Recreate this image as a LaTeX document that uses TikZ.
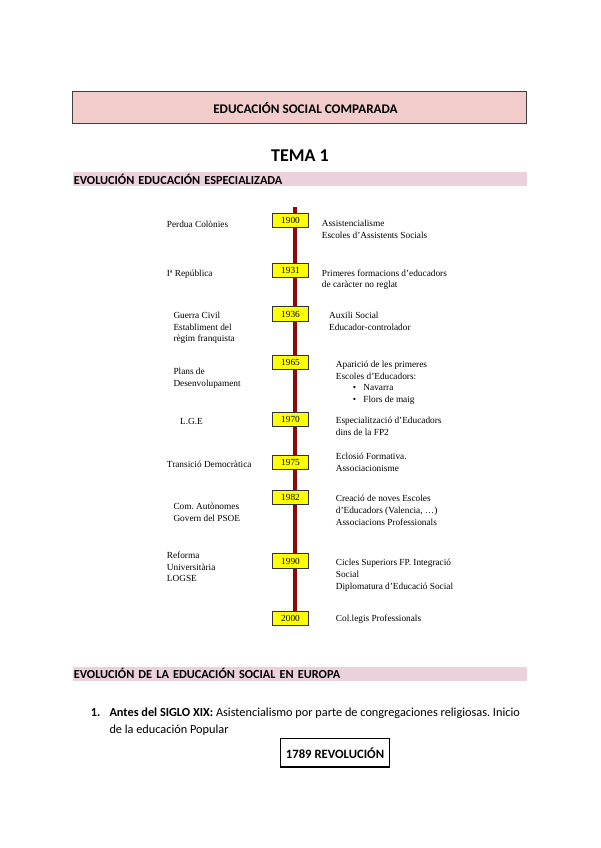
\documentclass[tikz,border=0pt]{standalone}
\usepackage{fontspec}
\setmainfont{Carlito}
\newfontfamily\timesf{Liberation Serif}
\frenchspacing
\definecolor{titlepink}{HTML}{F2CBCB}
\definecolor{bandpink}{HTML}{EBD1DC}
\definecolor{linered}{HTML}{8B0A0A}
\definecolor{yearyel}{HTML}{FFFF00}
\definecolor{boxgray}{HTML}{404040}
\tikzset{
  titlebox/.style={draw=boxgray, fill=titlepink, line width=1.2pt, minimum width=454pt, minimum height=31.5pt, inner sep=0pt},
  band/.style={fill=bandpink, anchor=west, text width=452pt, align=left, inner xsep=1pt, inner ysep=0pt, minimum height=14pt, font=\bfseries\fontsize{12.3}{13}\selectfont},
  tline/.style={draw=linered, line width=4pt},
  yearbox/.style={draw=black!80, fill=yearyel, line width=0.7pt, minimum width=35.5pt, minimum height=14.5pt, inner sep=0pt, font=\timesf\fontsize{9.3}{11}\selectfont},
  tl/.style={anchor=north west, align=left, inner sep=0pt, font=\timesf\fontsize{9.3}{11.7}\selectfont},
  body/.style={inner sep=0pt, font=\fontsize{12.3}{16.7}\selectfont, align=left},
}
\begin{document}
\begin{tikzpicture}[x=1pt,y=-1pt]
\useasboundingbox (0,0) rectangle (600,848);
% header
\node[titlebox] (title) at (299.7,107.5) {};
\node[inner sep=0pt, font=\bfseries\fontsize{13.2}{15}\selectfont] (titletext) at (305.5,108.3) {EDUCACIÓN SOCIAL COMPARADA};
\node[inner sep=0pt, font=\bfseries\fontsize{18}{20}\selectfont] (tema) at (300,156) {TEMA 1};
\node[band] (band1) at (72.7,179.4) {\mbox{EVOLUCIÓN EDUCACIÓN ESPECIALIZADA}};
% timeline
\coordinate (ltop) at (294.7,207);
\node[yearbox] (y2000) at (290.5,618.5) {2000};
\draw[tline] (ltop) -- (ltop |- y2000.center);
\node[yearbox] (y1900) at (290.5,220.5) {1900};
\node[yearbox] (y1931) at (290.5,270.5) {1931};
\node[yearbox] (y1936) at (290.5,314) {1936};
\node[yearbox] (y1965) at (290.5,362.5) {1965};
\node[yearbox] (y1970) at (290.5,419.5) {1970};
\node[yearbox] (y1975) at (290.5,462.5) {1975};
\node[yearbox] (y1982) at (290.5,497.5) {1982};
\node[yearbox] (y1990) at (290.5,561) {1990};
\node[yearbox] (y2000b) at (290.5,618.5) {2000};
% left texts
\node[tl] (l1900) at (166.7,220.5) {Perdua Colònies};
\node[tl] (l1931) at (166.7,269.5) {Iª República};
\node[tl] (l1936) at (173.3,311.7) {Guerra Civil\\Establiment del\\règim franquista};
\node[tl] (l1965) at (173.3,368.3) {Plans de\\Desenvolupament};
\node[tl] (l1970) at (180,418.3) {L.G.E};
\node[tl] (l1975) at (166.7,460.7) {Transició Democràtica};
\node[tl] (l1982) at (173.3,502.7) {Com. Autònomes\\Govern del PSOE};
\node[tl] (l1990) at (166.7,551.7) {Reforma\\Universitària\\LOGSE};
% right texts
\node[tl] (r1900) at (321.7,220) {Assistencialisme\\Escoles d’Assistents Socials};
\node[tl] (r1931) at (321.7,269.3) {Primeres formacions d’educadors\\de caràcter no reglat};
\node[tl] (r1936) at (329,311.7) {Auxili Social\\Educador-controlador};
\node[tl] (r1965) at (335.7,360.7) {Aparició de les primeres\\Escoles d’Educadors:\\\hspace*{17pt}•\hspace*{7.3pt}Navarra\\\hspace*{17pt}•\hspace*{7.3pt}Flors de maig};
\node[tl] (r1970) at (335.7,417.3) {Especialització d’Educadors\\dins de la FP2};
\node[tl] (r1975) at (335.7,453.3) {Eclosió Formativa.\\Associacionisme};
\node[tl] (r1982) at (335.7,495) {Creació de noves Escoles\\d’Educadors (Valencia, …)\\Associacions Professionals};
\node[tl] (r1990) at (335.7,559.3) {Cicles Superiors FP. Integració\\Social\\Diplomatura d’Educació Social};
\node[tl] (r2000) at (335.7,615) {Col.legis Professionals};
% europe section
\node[band] (band2) at (72.7,673.5) {\mbox{EVOLUCIÓN DE LA EDUCACIÓN SOCIAL EN EUROPA}};
\node[body, anchor=base west] (num1) at (90.7,716.7) {\textbf{1.}};
\node[body, anchor=north west] (item1) at (109.3,708.1) {\textbf{Antes del SIGLO XIX:} Asistencialismo por parte de congregaciones religiosas. Inicio\\de la educación Popular};
\node[draw=black, line width=1.5pt, minimum width=109pt, minimum height=28.5pt, inner sep=0pt, font=\bfseries\fontsize{12.7}{14}\selectfont] (rev) at (335,752.8) {1789 REVOLUCIÓN};
\end{tikzpicture}
\end{document}
